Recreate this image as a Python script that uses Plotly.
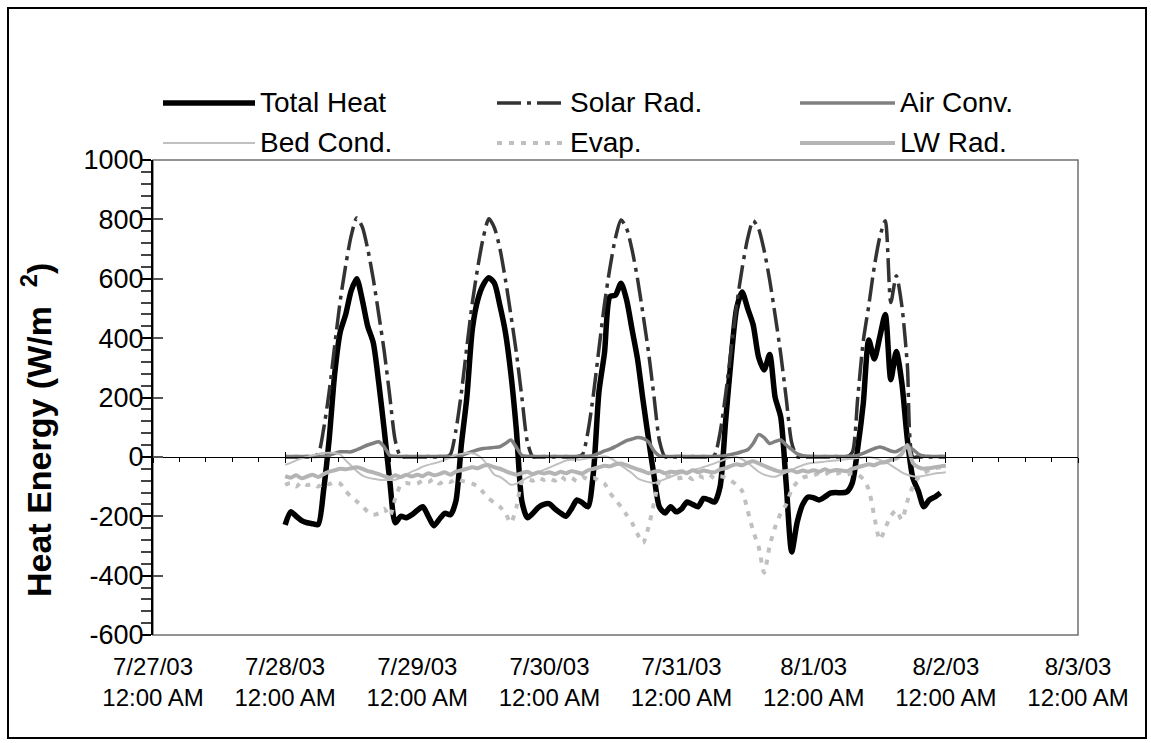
import pandas as pd
import plotly.graph_objects as go

# Hourly samples, 7/28/03 00:00 through 8/2/03 00:00
times = pd.date_range("2003-07-28 00:00", periods=121, freq="h")

total_heat = [
    -229, -185, -200, -215, -222, -225, -228, -110, 60, 280, 420, 480, 560, 600, 530, 440, 385, 250, 90, -80, -222, -200, -205, -195,
    -180, -168, -200, -232, -210, -190, -195, -150, 40, 200, 430, 530, 580, 603, 585, 510, 420, 280, 90, -150, -205, -190, -170, -160,
    -158, -175, -189, -200, -175, -145, -155, -168, -50, 220, 350, 540, 545, 585, 530, 430, 330, 190, 60, -65, -170, -189, -168, -185,
    -175, -152, -160, -168, -140, -145, -152, -100, 120, 330, 500, 555, 500, 445, 335, 293, 345, 200, 135, -90, -320, -220, -160, -135,
    -138, -145, -135, -122, -120, -121, -118, -88, 30, 180, 394, 330, 404, 480, 260, 355, 250, 60, -70, -115, -168, -145, -135, -121,
    None,
]

solar_rad = [
    0, 0, 0, 0, 0, 0, 10, 95, 220, 375, 525, 645, 745, 805, 775, 700, 600, 480, 355, 205, 55, 0, 0, 0,
    0, 0, 0, 0, 0, 0, 8, 88, 215, 370, 520, 640, 740, 802, 772, 702, 598, 478, 350, 200, 50, 0, 0, 0,
    0, 0, 0, 0, 0, 0, 8, 85, 212, 365, 515, 638, 738, 798, 770, 698, 600, 480, 352, 202, 52, 0, 0, 0,
    0, 0, 0, 0, 0, 0, 7, 82, 210, 362, 512, 635, 735, 795, 768, 695, 596, 476, 348, 198, 48, 0, 0, 0,
    0, 0, 0, 0, 0, 0, 0, 15, 200, 390, 510, 640, 740, 795, 520, 610, 510, 310, 0, 0, 0, 0, 0, 0,
    0,
]

air_conv = [
    2, 1, 2, 1, 2, 1, 2, 2, 5, 12, 17, 17, 17, 24, 32, 40, 46, 51, 34, 5, 2, 1, 2, 1,
    2, 1, 2, 1, 2, 2, 1, 2, 5, 12, 18, 24, 28, 30, 32, 34, 45, 57, 32, 5, 2, 2, 1, 2,
    1, 2, 1, 2, 1, 2, 2, 2, 5, 12, 20, 26, 35, 45, 55, 60, 65, 62, 50, 20, 3, 2, 1, 2,
    2, 1, 2, 1, 2, 1, 2, 2, 5, 8, 12, 18, 24, 45, 75, 65, 45, 52, 57, 40, 25, 10, 4, 2,
    2, 1, 2, 1, 2, 1, 2, 2, 5, 12, 20, 28, 33, 28, 20, 18, 28, 34, 25, 10, 3, 2, 1, 2,
    1,
]

bed_cond = [
    -27, -20, -12, -5, 0, 5, 10, 13, 14, 13, 8, -12, -30, -48, -62, -70, -74, -77, -78, -78, -77, -70, -60, -50,
    -42, -33, -27, -22, -17, -10, -2, 7, 10, 13, 12, 5, -10, -35, -60, -67, -80, -94, -90, -80, -70, -62, -52, -44,
    -36, -28, -20, -12, -10, -10, -8, -5, -2, 0, 2, -3, -15, -30, -42, -55, -72, -80, -85, -88, -82, -75, -67, -60,
    -54, -50, -45, -40, -34, -28, -22, -15, -8, -2, 0, -8, -20, -35, -50, -60, -65, -67, -60, -52, -45, -35, -28, -22,
    -20, -18, -16, -14, -12, -10, -8, -6, -4, -2, 0, -4, -10, -18, -28, -40, -52, -60, -65, -67, -64, -60, -56, -54,
    -52,
]

evap = [
    -95, -88, -100, -85, -95, -90, -100, -88, -92, -85, -90, -115, -135, -150, -165, -185, -195, -190, -175, -200, -140, -95, -88, -92,
    -90, -80, -85, -75, -90, -80, -85, -75, -80, -85, -90, -100, -120, -140, -155, -168, -190, -222, -170, -85, -75, -80, -70, -78,
    -72, -80, -65, -78, -70, -82, -68, -75, -70, -80, -90, -121, -145, -168, -195, -222, -260, -290, -236, -155, -80, -70, -65, -72,
    -70, -65, -75, -62, -70, -60, -72, -65, -70, -80, -95, -115, -180, -250, -303, -390, -300, -236, -190, -160, -110, -85, -70, -65,
    -62, -55, -60, -50, -58, -52, -60, -55, -60, -75, -110, -200, -279, -240, -200, -180, -212, -150, -100, -70, -55, -45, -38, -35,
    -30,
]

lw_rad = [
    -65, -70, -62, -72, -66, -60, -68, -58, -50, -45, -40, -42, -38, -35, -40, -48, -52, -58, -65, -70, -62, -68, -60, -66,
    -60, -65, -55, -62, -58, -52, -60, -50, -45, -40, -35, -38, -30, -28, -35, -40, -48, -55, -60, -55, -50, -58, -52, -56,
    -52, -58, -50, -55, -48, -52, -56, -45, -40, -35, -30, -32, -25, -22, -28, -35, -42, -48, -55, -50, -48, -55, -50, -52,
    -48, -55, -45, -52, -46, -50, -52, -42, -38, -30, -25, -28, -20, -15, -22, -30, -38, -45, -50, -48, -45, -52, -46, -50,
    -45, -50, -42, -48, -44, -46, -48, -40, -35, -30, -25, -28, -20, -18, -10, -5, 10, 40, -20, -35, -40, -38, -35, -32,
    -30,
]

day_ticks = pd.date_range("2003-07-27", "2003-08-03", freq="D")
day_labels = ["7/27/03", "7/28/03", "7/29/03", "7/30/03", "7/31/03", "8/1/03", "8/2/03", "8/3/03"]
tick_text = [f"{d}<br>12:00 AM" for d in day_labels]

y_ticks = [-600, -400, -200, 0, 200, 400, 600, 800, 1000]
y_tick_text = [str(v) for v in y_ticks]  # plain hyphen for negatives

# name, values, colour, width, dash pattern
series = [
    ("Total Heat", total_heat, "#000000", 5.5, "solid"),
    ("Solar Rad.", solar_rad, "#333333", 3.5, "24px,6px,4px,6px"),
    ("Air Conv.", air_conv, "#808080", 3.5, "solid"),
    ("Bed Cond.", bed_cond, "#c0c0c0", 2, "solid"),
    ("Evap.", evap, "#c0c0c0", 4, "5px,7px"),
    ("LW Rad.", lw_rad, "#b4b4b4", 4, "solid"),
]

fig = go.Figure()
for name, vals, color, width, dash in series:
    fig.add_trace(go.Scatter(
        x=times, y=vals, name=name, mode="lines",
        line=dict(color=color, width=width, dash=dash, shape="spline", smoothing=0.7),
        showlegend=False,
    ))

# carriers for the overlay axes (zero-line axis and inward tick marks)
fig.add_trace(go.Scatter(x=[None], y=[None], xaxis="x2", yaxis="y2", showlegend=False, hoverinfo="skip"))
fig.add_trace(go.Scatter(x=[None], y=[None], xaxis="x3", yaxis="y", showlegend=False, hoverinfo="skip"))

x_range = ["2003-07-27 00:00", "2003-08-03 00:00"]
y_range = [-600, 1000]
zero_pos = (0 - y_range[0]) / (y_range[1] - y_range[0])
FONT = "Liberation Sans, Arial, sans-serif"

fig.update_layout(
    width=1151, height=743,
    margin=dict(l=153, r=73, t=160, b=108, pad=0),
    paper_bgcolor="white", plot_bgcolor="white",
    font=dict(family=FONT, color="black"),
    showlegend=False,
    xaxis=dict(
        type="date", range=x_range, tickvals=day_ticks, ticktext=tick_text,
        tickfont=dict(size=24, family=FONT, color="black"),
        ticks="outside", ticklen=10, tickcolor="rgba(0,0,0,0)",
        showgrid=False, zeroline=False, showline=False,
    ),
    xaxis2=dict(
        type="date", range=x_range, overlaying="x", anchor="free", position=zero_pos,
        tickvals=day_ticks, showticklabels=False,
        ticks="outside", ticklen=5, tickwidth=1, tickcolor="black",
        minor=dict(tick0="2003-07-27", dtick=4.8 * 3600 * 1000, ticks="outside",
                   ticklen=4, tickwidth=1, tickcolor="black"),
        showline=True, linecolor="black", linewidth=1,
        showgrid=False, zeroline=False,
    ),
    xaxis3=dict(
        type="date", range=x_range, overlaying="x", anchor="free", position=zero_pos,
        tickvals=day_ticks, showticklabels=False,
        ticks="inside", ticklen=5, tickwidth=1, tickcolor="black",
        showline=False, showgrid=False, zeroline=False,
    ),
    yaxis=dict(
        range=y_range, tickmode="array", tickvals=y_ticks, ticktext=y_tick_text,
        tickfont=dict(size=27, family=FONT, color="black"),
        ticks="outside", ticklen=10, tickwidth=1.5, tickcolor="black",
        minor=dict(tick0=-600, dtick=40, ticks="outside", ticklen=10,
                   tickwidth=1.5, tickcolor="#444444"),
        showline=True, linecolor="black", linewidth=2,
        showgrid=False, zeroline=False, ticklabelstandoff=-8,
    ),
    yaxis2=dict(
        range=y_range, overlaying="y", anchor="x", side="left",
        tickmode="array", tickvals=y_ticks, showticklabels=False,
        ticks="inside", ticklen=10, tickwidth=1.5, tickcolor="#555555",
        showline=False, showgrid=False, zeroline=False,
    ),
)

# plot frame and outer chart border
fig.add_shape(type="rect", xref="paper", yref="paper", x0=0, x1=1, y0=0, y1=1,
              line=dict(color="#707070", width=1.5), layer="below")

W, H = 925.0, 475.0
L, B = 153.0, 635.0
def px(x):
    return (x - L) / W
def py(y):
    return (B - y) / H

fig.add_shape(type="rect", xref="paper", yref="paper",
              x0=px(8), x1=px(1146), y0=py(738), y1=py(8),
              line=dict(color="black", width=2), layer="below")

# y-axis title
fig.add_annotation(
    xref="paper", yref="paper", x=px(36), y=py(430),
    text="<b>Heat Energy (W/m&nbsp;&nbsp;<sup>2</sup>)</b>", textangle=-90, showarrow=False,
    font=dict(size=34, family=FONT, color="black"), xanchor="center", yanchor="middle",
)

# legend: two rows of three entries
legend_rows = [103, 143]
col_line = [(163, 255), (497, 565), (800, 895)]
col_text = [258, 568, 898]
for i, (name, vals, color, width, dash) in enumerate(series):
    r, c = divmod(i, 3)
    yy = py(legend_rows[r])
    x0, x1 = col_line[c]
    fig.add_shape(type="line", xref="paper", yref="paper",
                  x0=px(x0), x1=px(x1), y0=yy, y1=yy,
                  line=dict(color=color, width=width, dash=dash))
    fig.add_annotation(xref="paper", yref="paper", x=px(col_text[c]), y=yy,
                       text=name, showarrow=False, xanchor="left", yanchor="middle",
                       font=dict(size=28, family=FONT, color="black"))

fig.write_html("out.html")
